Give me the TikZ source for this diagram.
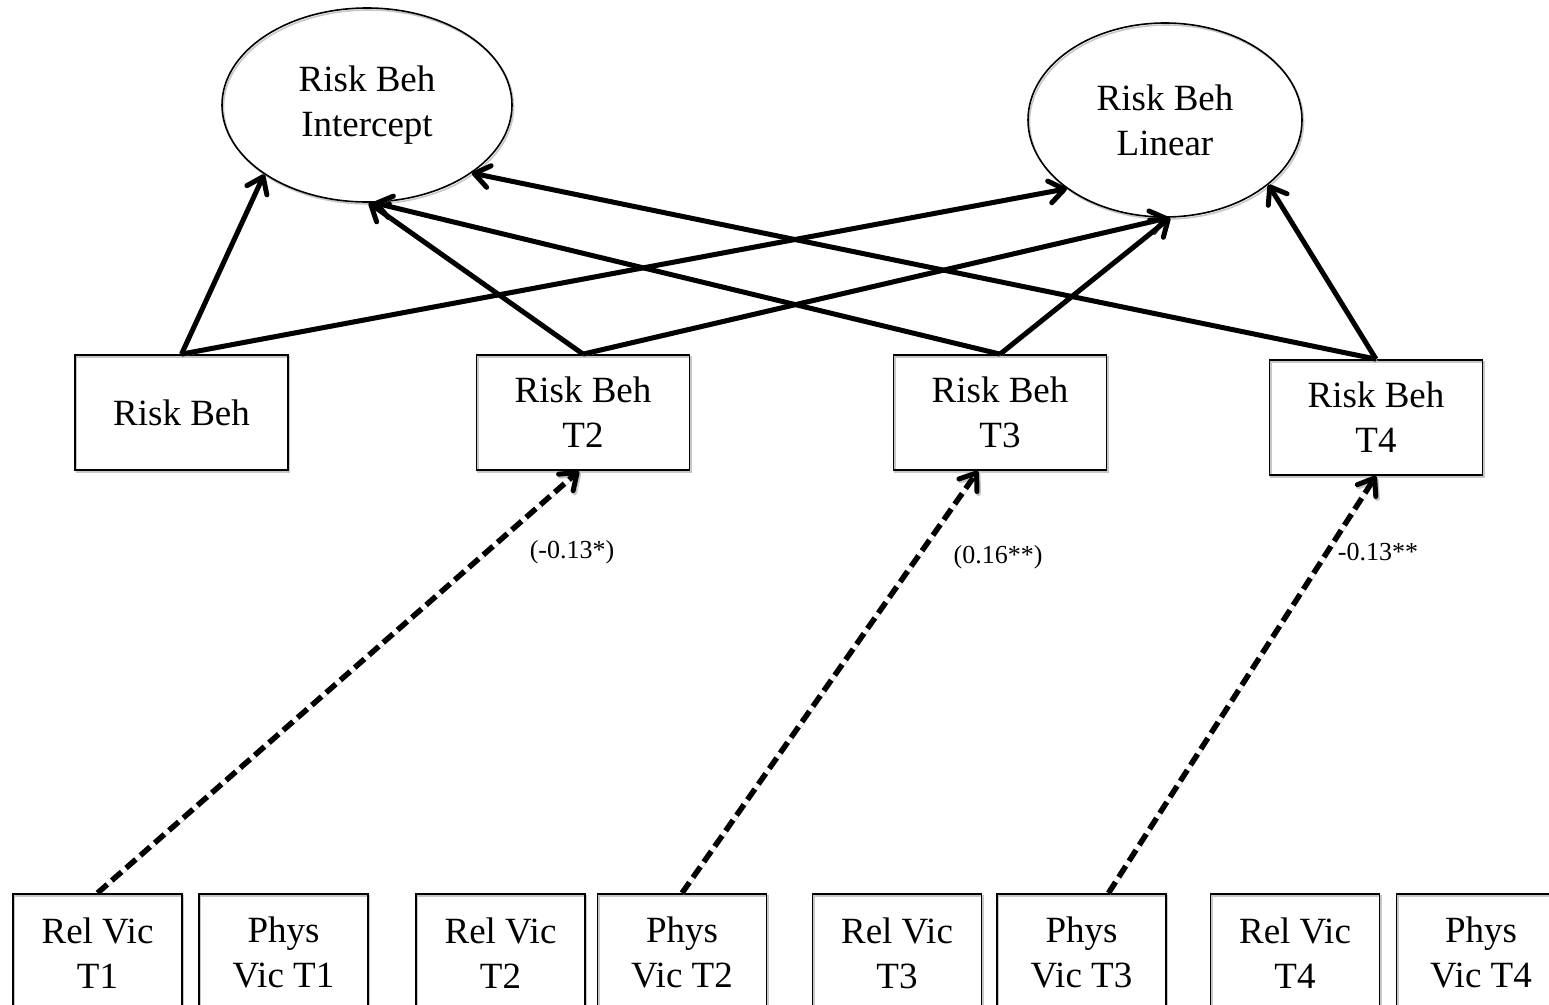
\documentclass[tikz,border=0pt]{standalone}
\usepackage{fontspec}
\setmainfont{Liberation Serif}
\usetikzlibrary{shapes.geometric,arrows.meta}
\begin{document}
\begin{tikzpicture}[x=1pt,y=-1pt,
  shad/.style={preaction={draw=black!22,transform canvas={xshift=1.5pt,yshift=-2pt}}},
  lat/.style={draw,ellipse,line width=1.6pt,inner sep=0pt,minimum width=290pt,minimum height=194pt,align=center,font=\fontsize{37}{45}\selectfont,shad},
  obs/.style={draw,rectangle,line width=1.8pt,inner sep=0pt,minimum width=213pt,minimum height=115pt,align=center,font=\fontsize{37}{45}\selectfont,shad},
  vic/.style={draw,rectangle,line width=1.8pt,inner sep=0pt,minimum width=169pt,minimum height=118pt,align=center,anchor=north,font=\fontsize{37}{45}\selectfont,shad},
  sarr/.style={line width=5pt,-{Straight Barb[length=15pt,width=22pt,line width=5pt,round]},shad},
  darr/.style={line width=5.5pt,dash pattern=on 13pt off 6pt,-{Straight Barb[length=15pt,width=22pt,line width=5pt,round]},shad},
  coef/.style={font=\fontsize{26}{30}\selectfont,inner sep=0pt}]

\useasboundingbox (0,0) rectangle (1549,1004);

% latent factors
\node[lat] (int) at (367,105) {Risk Beh\\Intercept};
\node[lat,minimum width=274pt] (lin) at (1165,120) {Risk Beh\\Linear};

% risk behaviour boxes
\node[obs] (b1) at (181.5,412.5) {Risk Beh};
\node[obs] (b2) at (583,412.5) {Risk Beh\\T2};
\node[obs] (b3) at (1000,412.5) {Risk Beh\\T3};
\node[obs] (b4) at (1376,417.5) {Risk Beh\\T4};

% victimisation boxes
\node[vic] (r1) at (97.5,893) {Rel Vic\\T1};
\node[vic] (p1) at (283.5,893) {Phys\\Vic T1};
\node[vic] (r2) at (500.5,893) {Rel Vic\\T2};
\node[vic] (p2) at (682,893) {Phys\\Vic T2};
\node[vic] (r3) at (897,893) {Rel Vic\\T3};
\node[vic] (p3) at (1081.5,893) {Phys\\Vic T3};
\node[vic] (r4) at (1295,893) {Rel Vic\\T4};
\node[vic] (p4) at (1481,893) {Phys\\Vic T4};

% growth paths
\draw[sarr] (b1.north) -- (int.214);
\draw[sarr] (b1.north) -- (lin.215);
\draw[sarr] (b2.north) -- (int.271);
\draw[sarr] (b2.north) -- (lin.272);
\draw[sarr] (b3.north) -- (int.274);
\draw[sarr] (b3.north) -- (lin.273);
\draw[sarr] (b4.north) -- (int.327);
\draw[sarr] (b4.north) -- (lin.328);

% victimisation effects
\draw[darr] (r1.north) -- ([xshift=-4pt]b2.south);
\draw[darr] (p2.north) -- ([xshift=-22pt]b3.south);
\draw[darr] ([xshift=27pt]p3.north) -- (b4.south);

% coefficients
\node[coef] (c1) at (572,552) {(-0.13*)};
\node[coef] (c2) at (998,557) {(0.16**)};
\node[coef] (c3) at (1378,552) {-0.13**};
\end{tikzpicture}
\end{document}
